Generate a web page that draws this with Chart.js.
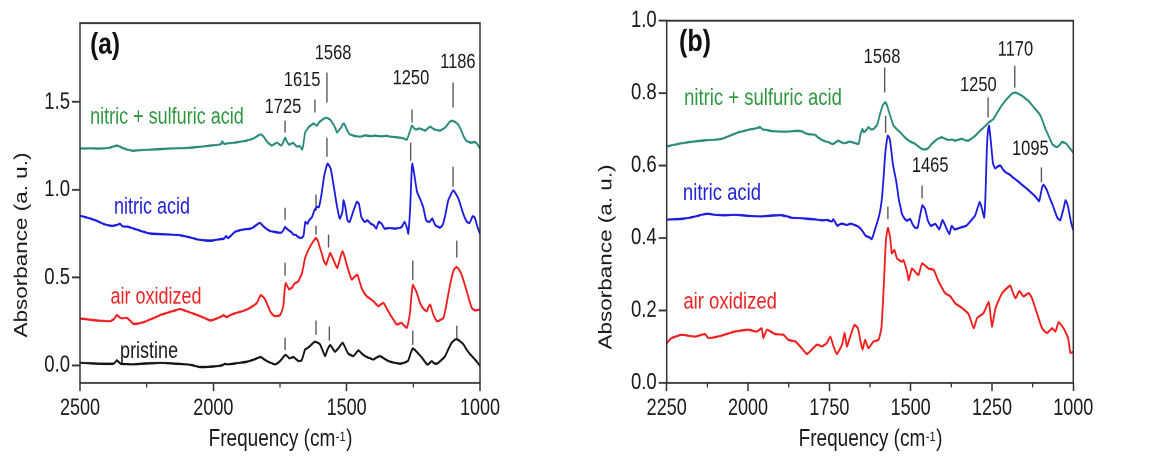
<!DOCTYPE html>
<html>
<head>
<meta charset="utf-8">
<title>FTIR spectra of oxidized nanotubes</title>
<script src="https://cdn.jsdelivr.net/npm/chart.js@4.4.1/dist/chart.umd.min.js"></script>
<style>
  html, body { margin: 0; padding: 0; background: #fff; width: 1151px; height: 456px; overflow: hidden; }
  .panel { position: absolute; top: 0; height: 365px; transform-origin: 0 0; transform: scaleY(1.2493); }
  #pa { left: 0; width: 575px; }
  #pb { left: 575px; width: 576px; }
</style>
</head>
<body>
<div class="panel" id="pa"><canvas id="ca" width="575" height="365"></canvas></div>
<div class="panel" id="pb"><canvas id="cb" width="576" height="365"></canvas></div>
<script>
// ---- Panel (a): spectra, [wavenumber cm-1, absorbance] ----
const aMixedAcid = [[2500,1.235],[2460,1.236],[2425,1.235],[2390,1.240],[2376,1.246],[2361,1.252],[2342,1.240],[2320,1.228],[2301,1.223],[2270,1.226],[2237,1.229],[2200,1.232],[2162,1.235],[2125,1.237],[2087,1.240],[2050,1.245],[2012,1.252],[1985,1.256],[1970,1.262],[1967,1.276],[1960,1.262],[1940,1.266],[1919,1.269],[1890,1.276],[1862,1.286],[1845,1.296],[1832,1.309],[1821,1.315],[1810,1.300],[1802,1.281],[1790,1.262],[1780,1.252],[1770,1.262],[1761,1.269],[1752,1.258],[1746,1.252],[1738,1.270],[1731,1.297],[1724,1.275],[1716,1.258],[1708,1.262],[1701,1.269],[1693,1.255],[1686,1.246],[1678,1.250],[1671,1.240],[1667,1.229],[1662,1.262],[1656,1.326],[1648,1.345],[1641,1.360],[1634,1.368],[1626,1.377],[1618,1.372],[1611,1.366],[1603,1.385],[1596,1.394],[1586,1.405],[1577,1.411],[1569,1.406],[1562,1.400],[1555,1.385],[1547,1.366],[1541,1.345],[1536,1.326],[1529,1.340],[1521,1.354],[1515,1.372],[1510,1.377],[1504,1.360],[1499,1.343],[1493,1.325],[1487,1.315],[1470,1.307],[1450,1.303],[1430,1.310],[1410,1.306],[1394,1.309],[1370,1.305],[1350,1.308],[1337,1.303],[1320,1.300],[1300,1.297],[1285,1.292],[1274,1.286],[1268,1.310],[1262,1.337],[1255,1.366],[1248,1.352],[1240,1.343],[1232,1.348],[1225,1.349],[1215,1.343],[1206,1.337],[1197,1.348],[1187,1.360],[1178,1.350],[1169,1.343],[1160,1.340],[1150,1.337],[1140,1.345],[1131,1.354],[1120,1.375],[1112,1.389],[1104,1.393],[1097,1.389],[1090,1.383],[1082,1.372],[1074,1.350],[1067,1.326],[1060,1.300],[1052,1.281],[1041,1.272],[1030,1.269],[1022,1.272],[1015,1.269],[1008,1.255],[1000,1.235]];

const aNitric = [[2500,0.853],[2470,0.840],[2440,0.825],[2410,0.805],[2380,0.795],[2360,0.800],[2350,0.807],[2340,0.792],[2320,0.790],[2300,0.780],[2270,0.765],[2240,0.752],[2200,0.748],[2160,0.745],[2120,0.740],[2090,0.730],[2060,0.718],[2030,0.712],[2000,0.712],[1980,0.718],[1960,0.722],[1952,0.737],[1945,0.725],[1930,0.745],[1919,0.760],[1900,0.770],[1884,0.775],[1861,0.779],[1850,0.787],[1838,0.800],[1826,0.813],[1817,0.800],[1809,0.788],[1792,0.769],[1769,0.760],[1746,0.756],[1738,0.768],[1731,0.788],[1724,0.778],[1717,0.769],[1708,0.760],[1699,0.745],[1690,0.742],[1682,0.731],[1670,0.726],[1662,0.737],[1655,0.817],[1647,0.807],[1641,0.826],[1630,0.845],[1621,0.883],[1612,0.902],[1604,0.902],[1595,0.968],[1584,1.082],[1572,1.149],[1560,1.121],[1549,1.026],[1537,0.912],[1526,0.836],[1516,0.874],[1512,0.940],[1505,0.902],[1497,0.826],[1489,0.817],[1474,0.883],[1462,0.931],[1454,0.921],[1445,0.845],[1433,0.817],[1422,0.826],[1410,0.807],[1398,0.798],[1389,0.779],[1380,0.817],[1369,0.807],[1358,0.779],[1341,0.783],[1317,0.779],[1294,0.788],[1283,0.817],[1273,0.779],[1269,0.751],[1262,0.893],[1257,1.083],[1254,1.149],[1248,1.102],[1236,0.988],[1225,0.950],[1213,0.902],[1202,0.826],[1190,0.817],[1179,0.836],[1167,0.798],[1150,0.785],[1140,0.800],[1131,0.850],[1119,0.940],[1100,0.997],[1081,0.950],[1062,0.860],[1050,0.820],[1040,0.810],[1027,0.850],[1019,0.840],[1010,0.790],[1000,0.750]];

const aAirOxidized = [[2500,0.268],[2470,0.262],[2437,0.256],[2410,0.254],[2387,0.252],[2372,0.265],[2362,0.286],[2352,0.275],[2344,0.268],[2325,0.271],[2312,0.255],[2300,0.237],[2285,0.238],[2275,0.241],[2255,0.250],[2237,0.262],[2220,0.272],[2200,0.286],[2180,0.296],[2162,0.305],[2145,0.312],[2125,0.322],[2112,0.315],[2100,0.309],[2075,0.295],[2050,0.281],[2030,0.268],[2012,0.256],[2000,0.260],[1987,0.268],[1970,0.278],[1962,0.286],[1950,0.275],[1938,0.285],[1925,0.294],[1900,0.305],[1875,0.318],[1855,0.335],[1837,0.356],[1828,0.385],[1822,0.400],[1814,0.392],[1806,0.376],[1797,0.345],[1787,0.309],[1778,0.290],[1769,0.281],[1758,0.283],[1750,0.286],[1743,0.310],[1737,0.346],[1733,0.420],[1729,0.469],[1722,0.450],[1715,0.432],[1710,0.440],[1706,0.441],[1700,0.456],[1694,0.469],[1688,0.472],[1681,0.479],[1675,0.500],[1669,0.517],[1662,0.565],[1656,0.612],[1646,0.650],[1637,0.678],[1626,0.705],[1615,0.726],[1607,0.705],[1600,0.669],[1593,0.635],[1587,0.602],[1582,0.585],[1577,0.574],[1570,0.605],[1562,0.641],[1555,0.620],[1547,0.593],[1541,0.570],[1535,0.555],[1528,0.590],[1521,0.630],[1515,0.650],[1508,0.620],[1500,0.574],[1491,0.530],[1481,0.489],[1470,0.505],[1460,0.517],[1452,0.480],[1444,0.441],[1435,0.415],[1425,0.394],[1412,0.380],[1400,0.366],[1390,0.350],[1381,0.337],[1372,0.348],[1362,0.356],[1350,0.325],[1337,0.290],[1325,0.262],[1312,0.233],[1303,0.238],[1294,0.243],[1285,0.228],[1275,0.214],[1268,0.250],[1262,0.309],[1257,0.400],[1252,0.458],[1245,0.440],[1237,0.414],[1228,0.370],[1219,0.337],[1210,0.320],[1200,0.309],[1194,0.330],[1187,0.347],[1181,0.320],[1175,0.290],[1168,0.268],[1162,0.252],[1150,0.258],[1137,0.271],[1128,0.330],[1119,0.405],[1110,0.475],[1100,0.537],[1093,0.555],[1087,0.560],[1078,0.545],[1069,0.517],[1060,0.475],[1050,0.424],[1040,0.370],[1031,0.328],[1019,0.313],[1010,0.315],[1000,0.318]];

const aPristine = [[2500,0.015],[2460,0.012],[2425,0.010],[2375,0.010],[2368,0.018],[2362,0.029],[2355,0.020],[2347,0.010],[2325,0.008],[2300,0.006],[2270,0.010],[2237,0.012],[2200,0.014],[2175,0.013],[2140,0.010],[2100,0.006],[2075,0.000],[2050,-0.009],[2020,-0.008],[1987,-0.004],[1965,0.002],[1957,0.010],[1950,0.006],[1925,0.010],[1900,0.015],[1875,0.021],[1850,0.032],[1835,0.042],[1822,0.048],[1810,0.035],[1794,0.021],[1780,0.012],[1769,0.006],[1755,0.018],[1744,0.035],[1731,0.059],[1722,0.052],[1715,0.040],[1708,0.043],[1700,0.048],[1690,0.036],[1681,0.025],[1669,0.029],[1662,0.060],[1656,0.091],[1646,0.100],[1637,0.111],[1628,0.125],[1619,0.135],[1610,0.130],[1600,0.120],[1590,0.085],[1581,0.053],[1572,0.090],[1562,0.116],[1553,0.098],[1544,0.078],[1530,0.100],[1515,0.130],[1505,0.100],[1494,0.067],[1475,0.053],[1465,0.070],[1456,0.086],[1445,0.070],[1431,0.053],[1415,0.042],[1400,0.034],[1388,0.045],[1375,0.053],[1360,0.040],[1344,0.025],[1320,0.015],[1300,0.010],[1280,0.018],[1269,0.029],[1260,0.070],[1252,0.097],[1242,0.085],[1231,0.067],[1218,0.045],[1206,0.020],[1198,0.005],[1190,0.012],[1181,0.025],[1172,0.012],[1162,0.010],[1145,0.030],[1131,0.053],[1118,0.095],[1106,0.130],[1095,0.145],[1087,0.149],[1075,0.138],[1062,0.120],[1050,0.090],[1037,0.063],[1027,0.048],[1019,0.034],[1010,0.018],[1000,-0.004]];

// ---- Panel (b): spectra ----
const bMixedAcid = [[2250,0.653],[2230,0.657],[2204,0.662],[2170,0.666],[2142,0.669],[2110,0.671],[2081,0.674],[2055,0.683],[2029,0.692],[2015,0.695],[1999,0.699],[1980,0.702],[1963,0.706],[1955,0.700],[1947,0.699],[1930,0.696],[1917,0.695],[1900,0.694],[1876,0.694],[1855,0.696],[1835,0.695],[1825,0.690],[1814,0.687],[1794,0.685],[1785,0.678],[1773,0.671],[1763,0.667],[1753,0.665],[1745,0.661],[1737,0.660],[1730,0.665],[1722,0.669],[1712,0.664],[1701,0.662],[1690,0.666],[1681,0.665],[1670,0.662],[1660,0.660],[1654,0.687],[1648,0.701],[1644,0.692],[1640,0.695],[1635,0.700],[1630,0.706],[1622,0.700],[1614,0.701],[1609,0.706],[1604,0.711],[1599,0.725],[1594,0.743],[1586,0.766],[1578,0.775],[1572,0.765],[1568,0.752],[1560,0.730],[1553,0.711],[1542,0.700],[1532,0.692],[1520,0.680],[1506,0.669],[1496,0.664],[1486,0.660],[1475,0.652],[1465,0.646],[1455,0.645],[1445,0.649],[1435,0.660],[1424,0.669],[1414,0.675],[1404,0.678],[1394,0.674],[1383,0.671],[1373,0.672],[1363,0.669],[1352,0.672],[1342,0.674],[1332,0.670],[1322,0.669],[1311,0.676],[1301,0.683],[1291,0.692],[1281,0.701],[1270,0.710],[1260,0.719],[1252,0.724],[1245,0.729],[1238,0.740],[1230,0.752],[1220,0.766],[1209,0.779],[1198,0.790],[1188,0.799],[1178,0.802],[1168,0.798],[1158,0.793],[1148,0.786],[1137,0.778],[1127,0.767],[1117,0.756],[1108,0.747],[1101,0.738],[1093,0.720],[1086,0.702],[1075,0.680],[1065,0.660],[1057,0.654],[1050,0.651],[1042,0.657],[1035,0.665],[1024,0.662],[1019,0.658],[1014,0.651],[1006,0.643],[1000,0.635]];

const bNitric = [[2250,0.451],[2230,0.452],[2204,0.453],[2170,0.458],[2140,0.465],[2122,0.467],[2100,0.464],[2070,0.463],[2040,0.464],[2019,0.463],[1990,0.461],[1958,0.460],[1930,0.462],[1896,0.463],[1880,0.460],[1865,0.456],[1840,0.455],[1814,0.453],[1795,0.452],[1773,0.449],[1757,0.450],[1742,0.446],[1738,0.452],[1730,0.440],[1725,0.434],[1718,0.438],[1711,0.440],[1704,0.438],[1697,0.436],[1690,0.438],[1684,0.440],[1675,0.437],[1666,0.434],[1659,0.430],[1652,0.424],[1645,0.415],[1638,0.406],[1630,0.403],[1625,0.401],[1620,0.397],[1615,0.408],[1611,0.420],[1604,0.440],[1597,0.462],[1592,0.485],[1588,0.513],[1583,0.570],[1579,0.625],[1574,0.665],[1570,0.683],[1564,0.672],[1560,0.645],[1555,0.607],[1550,0.582],[1545,0.560],[1540,0.530],[1536,0.504],[1531,0.485],[1527,0.467],[1518,0.453],[1511,0.448],[1502,0.453],[1495,0.440],[1488,0.430],[1479,0.428],[1472,0.458],[1464,0.490],[1456,0.481],[1447,0.448],[1438,0.434],[1424,0.439],[1412,0.424],[1402,0.450],[1391,0.429],[1381,0.411],[1374,0.434],[1365,0.424],[1347,0.429],[1329,0.434],[1315,0.448],[1302,0.462],[1288,0.499],[1282,0.485],[1274,0.457],[1270,0.518],[1266,0.640],[1262,0.700],[1259,0.710],[1254,0.672],[1247,0.607],[1240,0.592],[1232,0.598],[1224,0.600],[1215,0.588],[1205,0.580],[1195,0.575],[1185,0.567],[1175,0.560],[1165,0.553],[1155,0.545],[1145,0.538],[1135,0.530],[1125,0.522],[1117,0.515],[1110,0.507],[1105,0.502],[1100,0.522],[1095,0.543],[1091,0.547],[1086,0.540],[1081,0.532],[1073,0.512],[1065,0.495],[1057,0.475],[1050,0.458],[1045,0.452],[1040,0.449],[1035,0.465],[1030,0.481],[1024,0.504],[1020,0.498],[1016,0.486],[1011,0.462],[1006,0.440],[1000,0.421]];

const bAirOxidized = [[2250,0.110],[2235,0.124],[2204,0.133],[2163,0.128],[2132,0.135],[2122,0.124],[2081,0.131],[2040,0.142],[1999,0.147],[1973,0.142],[1958,0.151],[1953,0.124],[1942,0.147],[1917,0.135],[1891,0.133],[1876,0.119],[1855,0.115],[1835,0.096],[1819,0.080],[1804,0.092],[1788,0.106],[1773,0.101],[1758,0.110],[1747,0.128],[1737,0.101],[1727,0.080],[1711,0.106],[1703,0.138],[1696,0.101],[1686,0.128],[1673,0.160],[1662,0.151],[1655,0.119],[1648,0.092],[1640,0.119],[1630,0.096],[1614,0.115],[1599,0.119],[1590,0.151],[1583,0.262],[1576,0.395],[1570,0.428],[1563,0.402],[1558,0.358],[1550,0.367],[1542,0.344],[1527,0.335],[1522,0.339],[1511,0.307],[1506,0.284],[1496,0.316],[1486,0.307],[1476,0.298],[1465,0.330],[1445,0.316],[1429,0.312],[1414,0.280],[1394,0.248],[1378,0.239],[1363,0.220],[1342,0.207],[1322,0.190],[1306,0.151],[1296,0.179],[1276,0.193],[1260,0.223],[1250,0.156],[1239,0.207],[1219,0.248],[1199,0.266],[1194,0.269],[1178,0.234],[1166,0.254],[1153,0.239],[1137,0.248],[1127,0.234],[1112,0.193],[1096,0.151],[1081,0.138],[1065,0.151],[1055,0.142],[1045,0.168],[1030,0.151],[1016,0.124],[1009,0.083],[999,0.087]];

// Band assignments written above the spectra (wavenumber labels)
const aBandLabels = ['1725', '1615', '1568', '1250', '1186'];
const bBandLabels = ['1568', '1250', '1170', '1465', '1095'];
const aTickValuesY = [0, 0.5, 1.0, 1.5];
const bTickValuesY = [0, 0.2, 0.4, 0.6, 0.8, 1.0];

// ---- styling ----
const FONT = "'Liberation Sans', Arial, Helvetica, sans-serif";
const COL = {
  mixed: '#2b8c7e', mixedText: '#2f9640',
  nitric: '#1c1ce0', nitricText: '#2222d8',
  air: '#f01e1e', airText: '#ee2424',
  pristine: '#141414', pristineText: '#1a1a1a',
  axis: '#333333', marker: '#5a5a5a', text: '#1a1a1a'
};

function toXY(pairs) { return pairs.map(p => ({ x: p[0], y: p[1] })); }

function series(pairs, color) {
  return { data: toXY(pairs), borderColor: color, borderWidth: 1.8, pointRadius: 0, tension: 0.15, fill: false };
}

// draws frame, minor ticks, band markers, free labels and axis titles
const panelDecor = {
  id: 'panelDecor',
  beforeDatasetsDraw(chart, args, o) {
    const { ctx, scales: { x, y } } = chart;
    ctx.save();
    ctx.strokeStyle = COL.marker;
    ctx.lineWidth = 1.4;
    for (const m of o.markers) {
      const px = x.getPixelForValue(m[0]);
      ctx.beginPath();
      ctx.moveTo(px, y.getPixelForValue(m[1]));
      ctx.lineTo(px, y.getPixelForValue(m[2]));
      ctx.stroke();
    }
    ctx.restore();
  },
  afterDraw(chart, args, o) {
    const { ctx, chartArea: a, scales: { x, y } } = chart;
    ctx.save();
    ctx.strokeStyle = COL.axis;
    ctx.lineWidth = 1.5;
    ctx.strokeRect(a.left, a.top, a.right - a.left, a.bottom - a.top);
    ctx.lineWidth = 1.3;
    for (const v of o.minorX) {
      const px = x.getPixelForValue(v);
      ctx.beginPath();
      ctx.moveTo(px, a.bottom);
      ctx.lineTo(px, a.bottom + 3.6);
      ctx.stroke();
    }
    ctx.textAlign = 'center';
    ctx.textBaseline = 'middle';
    for (const t of o.labels) {
      ctx.font = t.font;
      ctx.fillStyle = t.color;
      ctx.fillText(t.text, x.getPixelForValue(t.at[0]), y.getPixelForValue(t.at[1]));
    }
    // x-axis title with superscript
    const big = `19px ${FONT}`, small = `11px ${FONT}`;
    const main = 'Frequency (cm', sup = '-1', end = ')';
    ctx.font = big;
    const w1 = ctx.measureText(main).width, w3 = ctx.measureText(end).width;
    ctx.font = small;
    const w2 = ctx.measureText(sup).width;
    let x0 = (a.left + a.right) / 2 - (w1 + w2 + w3) / 2;
    ctx.fillStyle = COL.text;
    ctx.textAlign = 'left';
    ctx.textBaseline = 'alphabetic';
    ctx.font = big; ctx.fillText(main, x0, o.xTitleBase);
    ctx.font = small; ctx.fillText(sup, x0 + w1 + 0.5, o.xTitleBase - 4.2);
    ctx.font = big; ctx.fillText(end, x0 + w1 + w2 + 1, o.xTitleBase);
    // y-axis title
    ctx.save();
    ctx.translate(o.yTitleBase, o.yTitleCenter);
    ctx.rotate(-Math.PI / 2);
    ctx.textAlign = 'center';
    ctx.font = `18px ${FONT}`;
    ctx.fillText('Absorbance (a. u.)', 0, 0);
    ctx.restore();
    ctx.restore();
  }
};

function makeChart(id, cfg) {
  return new Chart(document.getElementById(id), {
    type: 'line',
    data: { datasets: cfg.datasets },
    options: {
      responsive: false,
      devicePixelRatio: 2,
      animation: false,
      events: [],
      layout: { padding: { left: 0, right: cfg.padRight, top: cfg.padTop, bottom: 0 } },
      plugins: { legend: { display: false }, tooltip: { enabled: false }, panelDecor: cfg.decor },
      scales: {
        x: {
          type: 'linear', reverse: true, min: cfg.xMin, max: cfg.xMax,
          afterFit: s => { s.height = 58.44; },
          border: { display: false },
          grid: { display: true, drawOnChartArea: false, drawTicks: true, tickLength: 6.5, tickColor: COL.axis, tickWidth: 1.5 },
          ticks: { stepSize: cfg.xStep, includeBounds: false, autoSkip: false, maxRotation: 0, padding: 3,
                   color: COL.text, font: { family: FONT, size: 18 }, callback: v => String(v) }
        },
        y: {
          type: 'linear', min: cfg.yMin, max: cfg.yMax,
          afterFit: s => { s.width = cfg.yWidth; },
          afterBuildTicks: s => { s.ticks = cfg.yTicks.map(v => ({ value: v })); },
          border: { display: false },
          grid: { display: true, drawOnChartArea: false, drawTicks: true, tickLength: 8, tickColor: COL.axis, tickWidth: 1.5 },
          ticks: { includeBounds: false, padding: 2, color: COL.text, font: { family: FONT, size: 18.5 },
                   callback: v => Number(v).toFixed(1) }
        }
      }
    },
    plugins: [panelDecor]
  });
}

const peakFont = `16.5px ${FONT}`;

makeChart('ca', {
  xMin: 1000, xMax: 2500, xStep: 500, yMin: -0.1, yMax: 1.95, yTicks: aTickValuesY,
  yWidth: 80, padRight: 95, padTop: 18.41,
  datasets: [
    series(aPristine, COL.pristine),
    series(aAirOxidized, COL.air),
    series(aNitric, COL.nitric),
    series(aMixedAcid, COL.mixed)
  ],
  decor: {
    minorX: [2250, 1750, 1250],
    xTitleBase: 357.2, yTitleBase: 27, yTitleCenter: 196.1,
    markers: [
      [1731, 1.326, 1.394], [1619, 1.440, 1.514], [1574, 1.497, 1.668], [1255, 1.383, 1.457], [1101, 1.468, 1.611],
      [1731, 0.830, 0.898], [1615, 0.880, 0.973], [1574, 1.189, 1.297], [1260, 1.165, 1.269], [1101, 1.018, 1.132],
      [1731, 0.511, 0.585], [1615, 0.745, 0.795], [1568, 0.671, 0.745], [1252, 0.488, 0.597], [1087, 0.614, 0.711],
      [1731, 0.089, 0.158], [1615, 0.175, 0.255], [1565, 0.141, 0.221], [1252, 0.118, 0.198], [1087, 0.146, 0.226]
    ],
    labels: [
      { text: '(a)', at: [2406, 1.822], font: `bold 24.5px ${FONT}`, color: '#111' },
      { text: 'nitric + sulfuric acid', at: [2174, 1.411], font: `18px ${FONT}`, color: COL.mixedText },
      { text: 'nitric acid', at: [2230, 0.898], font: `18px ${FONT}`, color: COL.nitricText },
      { text: 'air oxidized', at: [2215, 0.386], font: `18px ${FONT}`, color: COL.airText },
      { text: 'pristine', at: [2241, 0.078], font: `18px ${FONT}`, color: COL.pristineText },
      { text: aBandLabels[0], at: [1739, 1.468], font: peakFont, color: COL.text },
      { text: aBandLabels[1], at: [1667, 1.622], font: peakFont, color: COL.text },
      { text: aBandLabels[2], at: [1551, 1.776], font: peakFont, color: COL.text },
      { text: aBandLabels[3], at: [1259, 1.634], font: peakFont, color: COL.text },
      { text: aBandLabels[4], at: [1083, 1.725], font: peakFont, color: COL.text }
    ]
  }
});

makeChart('cb', {
  xMin: 1000, xMax: 2250, xStep: 250, yMin: 0, yMax: 1.0, yTicks: bTickValuesY,
  yWidth: 91.7, padRight: 77.7, padTop: 16.57,
  datasets: [
    series(bAirOxidized, COL.air),
    series(bNitric, COL.nitric),
    series(bMixedAcid, COL.mixed)
  ],
  decor: {
    minorX: [2125, 1875, 1625, 1375, 1125],
    xTitleBase: 357.2, yTitleBase: 36.5, yTitleCenter: 205.7,
    markers: [
      [1580, 0.802, 0.871], [1262, 0.733, 0.788], [1180, 0.815, 0.876], [1465, 0.510, 0.545], [1098, 0.554, 0.595],
      [1577, 0.690, 0.738], [1570, 0.452, 0.487]
    ],
    labels: [
      { text: '(b)', at: [2163, 0.939], font: `bold 25px ${FONT}`, color: '#111' },
      { text: 'nitric + sulfuric acid', at: [1954, 0.785], font: `18.5px ${FONT}`, color: COL.mixedText },
      { text: 'nitric acid', at: [2080, 0.523], font: `18.5px ${FONT}`, color: COL.nitricText },
      { text: 'air oxidized', at: [2055, 0.223], font: `18.5px ${FONT}`, color: COL.airText },
      { text: bBandLabels[0], at: [1588, 0.898], font: peakFont, color: COL.text },
      { text: bBandLabels[1], at: [1292, 0.821], font: peakFont, color: COL.text },
      { text: bBandLabels[2], at: [1178, 0.920], font: peakFont, color: COL.text },
      { text: bBandLabels[3], at: [1440, 0.598], font: peakFont, color: COL.text },
      { text: bBandLabels[4], at: [1132, 0.645], font: peakFont, color: COL.text }
    ]
  }
});
</script>
</body>
</html>
